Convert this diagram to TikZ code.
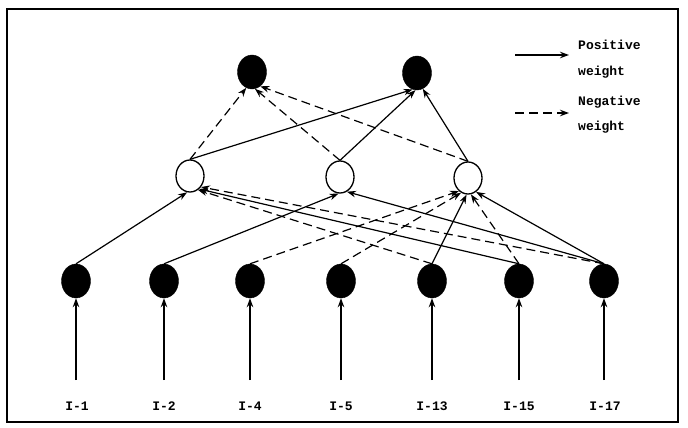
\documentclass[tikz,border=0pt]{standalone}
\usepackage{fontspec}
\setmonofont{Liberation Mono}
\usetikzlibrary{arrows.meta,shapes.geometric}
\begin{document}
\begin{tikzpicture}[x=1pt,y=-1pt,
  blk/.style={draw=black, fill=black, ellipse, minimum width=29pt, minimum height=34pt, inner sep=0pt},
  hid/.style={draw=black, fill=white, line width=1.3pt, ellipse, minimum width=28pt, minimum height=32pt, inner sep=0pt},
  poswt/.style={line width=1.2pt, -{Stealth[length=9pt,width=6.5pt]}},
  negwt/.style={poswt, dash pattern=on 9pt off 5pt},
  lbl/.style={font=\ttfamily\bfseries\fontsize{13}{15}\selectfont, inner sep=0pt},
]
\useasboundingbox (0,0) rectangle (688,428);
\draw[line width=1.4pt] (7,9) rectangle (678,422);

% output nodes
\node[blk] (o1) at (252,72) {};
\node[blk] (o2) at (417,73) {};
% hidden nodes
\node[hid] (h1) at (190,176) {};
\node[hid] (h2) at (340,177) {};
\node[hid] (h3) at (468,178) {};
% input nodes
\node[blk] (i1) at (76,281) {};
\node[blk] (i2) at (164,281) {};
\node[blk] (i4) at (250,281) {};
\node[blk] (i5) at (341,281) {};
\node[blk] (i13) at (432,281) {};
\node[blk] (i15) at (519,281) {};
\node[blk] (i17) at (604,281) {};

% input labels
\node[lbl] (l1) at (77,406) {I-1};
\node[lbl] (l2) at (164,406) {I-2};
\node[lbl] (l4) at (250,406) {I-4};
\node[lbl] (l5) at (341,406) {I-5};
\node[lbl] (l13) at (432,406) {I-13};
\node[lbl] (l15) at (519,406) {I-15};
\node[lbl] (l17) at (605,406) {I-17};

% input arrows
\foreach \n/\x in {1/76,2/164,4/250,5/341,13/432,15/519,17/604}{
  \coordinate (s\n) at (\x,380);
  \draw[poswt] (s\n) -- (i\n.south);
}

% input -> hidden
\draw[poswt] (i1.north) -- (h1.-100);
\draw[poswt] (i2.north) -- (h2.-95);
\draw[negwt] (i4.north) -- (h3.-125);
\draw[negwt] (i5.north) -- (h3.-115);
\draw[negwt] (i13.north) -- (h1.-60);
\draw[poswt] (i13.north) -- (h3.-95);
\draw[poswt] (i15.north) -- (h1.-55);
\draw[negwt] (i15.north) -- (h3.-80);
\draw[negwt] (i17.north) -- (h1.-45);
\draw[poswt] (i17.north) -- (h2.-65);
\draw[poswt] (i17.north) -- (h3.-60);

% hidden -> output
\draw[negwt] (h1.north) -- (o1.-110);
\draw[poswt] (h1.north) -- (o2.-105);
\draw[negwt] (h2.north) -- (o1.-80);
\draw[poswt] (h2.north) -- (o2.-95);
\draw[negwt] (h3.north) -- (o1.-60);
\draw[poswt] (h3.north) -- (o2.-70);

% legend
\coordinate (pa) at (515,55);
\coordinate (pb) at (569,55);
\draw[poswt] (pa) -- (pb);
\node[lbl, anchor=west] (pt1) at (578,45) {Positive};
\node[lbl, anchor=west] (pt2) at (578,72) {weight};
\coordinate (na) at (515,113);
\coordinate (nb) at (569,113);
\draw[negwt] (na) -- (nb);
\node[lbl, anchor=west] (nt1) at (578,102) {Negative};
\node[lbl, anchor=west] (nt2) at (578,127) {weight};
\end{tikzpicture}
\end{document}
